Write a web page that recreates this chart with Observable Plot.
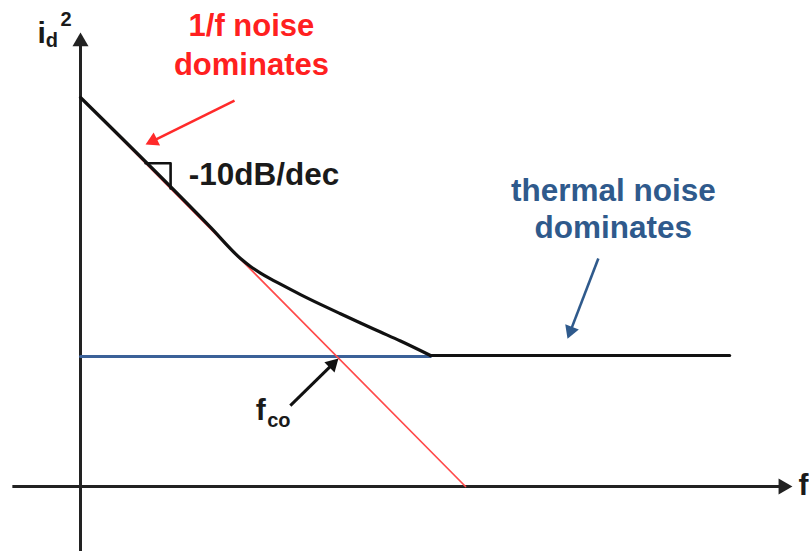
<!DOCTYPE html>
<html>
<head>
<meta charset="utf-8">
<script src="https://cdn.jsdelivr.net/npm/d3@7"></script>
<script src="https://cdn.jsdelivr.net/npm/@observablehq/plot@0.6"></script>
<style>
  html, body { margin: 0; padding: 0; background: #fff; }
  #chart svg { display: block; }
</style>
</head>
<body>
<div id="chart"></div>
<script>
// Schematic: x = log frequency (arbitrary units), y = noise power (arbitrary units)
// Total noise: sloped and curved part
const totalNoiseCurve = [
  {x: 0.000, y: 10.000},
  {x: 3.380, y: 6.660},
  {x: 4.156, y: 5.861},
  {x: 4.416, y: 5.656},
  {x: 4.675, y: 5.488},
  {x: 4.935, y: 5.339},
  {x: 5.195, y: 5.201},
  {x: 5.714, y: 4.933},
  {x: 6.234, y: 4.681},
  {x: 6.753, y: 4.440},
  {x: 7.273, y: 4.203},
  {x: 7.792, y: 3.972},
  {x: 8.312, y: 3.740},
  {x: 9.091, y: 3.368}
];
// Total noise: flat (thermal) part
const totalNoiseFlat = [{x: 9.091, y: 3.368}, {x: 16.86, y: 3.368}];
const flickerNoise = [{x: 0, y: 10}, {x: 10, y: 0}];
const thermalNoise = [{x: 0, y: 3.34}, {x: 9.09, y: 3.34}];
const slopeTriangle = [{x: 1.69, y: 8.31}, {x: 2.34, y: 8.31}, {x: 2.34, y: 7.66}];

const axesArrows = [
  {x1: 0, y1: -1.67, x2: 0, y2: 11.65, color: "#222", width: 3},
  {x1: -1.77, y1: 0, x2: 18.47, y2: 0, color: "#222", width: 3}
];
const noteArrows = [
  {x1: 4.0, y1: 9.92, x2: 1.69, y2: 8.79, color: "#ff2a2a", width: 2.6},
  {x1: 13.45, y1: 5.86, x2: 12.65, y2: 3.80, color: "#2f5a8c", width: 2.6},
  {x1: 5.45, y1: 2.08, x2: 6.70, y2: 3.29, color: "#111", width: 3}
];

const redLabels = [
  {x: 4.44, y: 11.59, text: "1/f noise"},
  {x: 4.44, y: 10.59, text: "dominates"}
];
const blueLabels = [
  {x: 13.84, y: 7.35, text: "thermal noise"},
  {x: 13.84, y: 6.38, text: "dominates"}
];
const slopeLabel = [{x: 2.81, y: 7.74, text: "-10dB/dec"}];
const bigLabels = [
  {x: 4.55, y: 1.70, text: "f"},
  {x: 18.65, y: -0.23, text: "f"},
  {x: -1.12, y: 11.41, text: "i"}
];
const subLabels = [
  {x: 4.85, y: 1.52, text: "co"},
  {x: -0.90, y: 11.30, text: "d"}
];
const supLabels = [{x: -0.52, y: 11.85, text: "2"}];

const font = "'Liberation Sans', Arial, sans-serif";
const W = 809, H = 551;
const xDomain = [-2.078, 18.935], yDomain = [-1.671, 12.494];
const kx = W / (xDomain[1] - xDomain[0]);
const ky = H / (yDomain[1] - yDomain[0]);

// Filled triangular arrowheads: shaft + triangle symbol at the tip
const HEAD = 4.2; // d3 triangle half-unit (px): length = 3*HEAD
function heads(arrows) {
  return arrows.map(a => {
    const dxp = (a.x2 - a.x1) * kx, dyp = -(a.y2 - a.y1) * ky;
    const len = Math.hypot(dxp, dyp);
    const ux = dxp / len, uy = dyp / len;
    const back = 2 * HEAD; // tip to centroid
    const cx = a.x2 - (ux * back) / kx, cy = a.y2 + (uy * back) / ky;
    return {...a, cx, cy, rotate: Math.atan2(ux, -uy) * 180 / Math.PI};
  });
}
const axesH = heads(axesArrows), notesH = heads(noteArrows);
const triR = Math.sqrt(3 * Math.sqrt(3) * HEAD * HEAD / Math.PI);

const chart = Plot.plot({
  width: W,
  height: H,
  margin: 0,
  x: {domain: xDomain, axis: null},
  y: {domain: yDomain, axis: null},
  style: {fontFamily: font, background: "#fff"},
  marks: [
    Plot.link(axesH, {x1: "x1", y1: "y1", x2: "cx", y2: "cy", stroke: "color", strokeWidth: "width"}),
    Plot.dot(axesH, {x: "cx", y: "cy", symbol: "triangle", r: triR * 1.1, rotate: "rotate", fill: "color", stroke: "none"}),
    Plot.line(thermalNoise, {x: "x", y: "y", stroke: "#3b6198", strokeWidth: 3}),
    Plot.line(flickerNoise, {x: "x", y: "y", stroke: "#ff4a4a", strokeWidth: 1.7}),
    Plot.line(totalNoiseCurve, {x: "x", y: "y", stroke: "#111", strokeWidth: 3.2, curve: "monotone-x"}),
    Plot.line(totalNoiseFlat, {x: "x", y: "y", stroke: "#111", strokeWidth: 3.2}),
    Plot.line(slopeTriangle, {x: "x", y: "y", stroke: "#111", strokeWidth: 2.6}),
    Plot.link(notesH, {x1: "x1", y1: "y1", x2: "cx", y2: "cy", stroke: "color", strokeWidth: "width"}),
    Plot.dot(notesH, {x: "cx", y: "cy", symbol: "triangle", r: triR, rotate: "rotate", fill: "color", stroke: "none"}),
    Plot.text(redLabels, {x: "x", y: "y", text: "text", fill: "#ff2020", fontSize: 31, fontWeight: "bold", lineAnchor: "bottom", textAnchor: "middle"}),
    Plot.text(blueLabels, {x: "x", y: "y", text: "text", fill: "#2f5a8c", fontSize: 31.5, fontWeight: "bold", lineAnchor: "bottom", textAnchor: "middle"}),
    Plot.text(slopeLabel, {x: "x", y: "y", text: "text", fill: "#1a1a1a", fontSize: 31.5, fontWeight: "bold", lineAnchor: "bottom", textAnchor: "start"}),
    Plot.text(bigLabels, {x: "x", y: "y", text: "text", fill: "#1a1a1a", fontSize: 30, fontWeight: "bold", lineAnchor: "bottom", textAnchor: "start"}),
    Plot.text(subLabels, {x: "x", y: "y", text: "text", fill: "#1a1a1a", fontSize: 20, fontWeight: "bold", lineAnchor: "bottom", textAnchor: "start"}),
    Plot.text(supLabels, {x: "x", y: "y", text: "text", fill: "#1a1a1a", fontSize: 20, fontWeight: "bold", lineAnchor: "bottom", textAnchor: "start"})
  ]
});
document.getElementById("chart").append(chart);
</script>
</body>
</html>
